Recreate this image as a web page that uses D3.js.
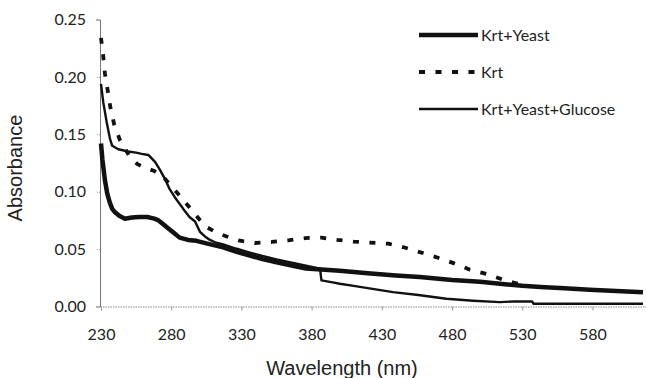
<!DOCTYPE html>
<html>
<head>
<meta charset="utf-8">
<script src="https://cdn.jsdelivr.net/npm/d3@7"></script>
<style>
  body { margin: 0; background: #fff; }
  svg { display: block; }
</style>
</head>
<body>
<svg width="646" height="378"></svg>
<script>
// values (wavelength in nm, absorbance)
let xTicks = [230, 280, 330, 380, 430, 480, 530, 580];
let yTicks = [0, 0.05, 0.10, 0.15, 0.20, 0.25];
let seriesNames = ["Krt+Yeast", "Krt", "Krt+Yeast+Glucose"];

let yeastWl = [230, 231, 232.8, 234.5, 236.4, 238, 240, 243, 247, 252, 257, 263, 268, 271, 275, 278, 282, 286, 292, 298, 305, 311, 317, 326, 336, 345, 355, 365, 376, 387, 400, 420, 440, 457, 480, 500, 514, 530, 543, 560, 578, 597, 616];
let yeastAbs = [0.142, 0.128, 0.110, 0.098, 0.090, 0.085, 0.082, 0.079, 0.0765, 0.0775, 0.078, 0.078, 0.0765, 0.075, 0.071, 0.068, 0.064, 0.060, 0.058, 0.0572, 0.055, 0.0532, 0.0515, 0.0478, 0.0443, 0.0413, 0.0385, 0.0358, 0.033, 0.0322, 0.0312, 0.029, 0.027, 0.0256, 0.023, 0.0215, 0.0198, 0.018, 0.017, 0.0158, 0.0146, 0.0135, 0.0125];

let krtWl = [230, 231.6, 232.8, 234.8, 236.6, 239.3, 243.5, 250.7, 256, 261.3, 268, 275, 280, 285, 294.6, 304, 310, 316, 327.8, 339.7, 351.6, 363.4, 375.3, 387, 398.3, 410, 421.6, 434.6, 445, 457, 470, 481, 492.8, 505.9, 516.5, 525, 532];
let krtAbs = [0.234, 0.218, 0.203, 0.188, 0.174, 0.159, 0.145, 0.130, 0.124, 0.121, 0.118, 0.112, 0.105, 0.098, 0.084, 0.070, 0.066, 0.0625, 0.0576, 0.0553, 0.0562, 0.0576, 0.0596, 0.0600, 0.0580, 0.0565, 0.0556, 0.0547, 0.0518, 0.0474, 0.0425, 0.0378, 0.0320, 0.0280, 0.0233, 0.0205, 0.0182];

let glucoseWl = [230, 231.6, 234, 236.4, 238, 242.3, 249.4, 255, 259, 263.7, 268.5, 272, 275.6, 279, 282.7, 288.6, 293, 297, 300.5, 304, 307.6, 312, 317, 326, 336, 345, 355, 365, 376, 386, 387, 395, 400, 410, 420, 438, 456, 476, 495, 514, 525, 537, 538, 580, 616];
let glucoseAbs = [0.194, 0.178, 0.161, 0.146, 0.140, 0.137, 0.135, 0.134, 0.133, 0.132, 0.126, 0.119, 0.111, 0.102, 0.095, 0.085, 0.078, 0.074, 0.065, 0.061, 0.058, 0.0555, 0.054, 0.0505, 0.047, 0.044, 0.041, 0.0385, 0.0355, 0.033, 0.0227, 0.021, 0.0198, 0.018, 0.016, 0.0125, 0.010, 0.0067, 0.005, 0.0038, 0.0045, 0.0044, 0.0024, 0.0024, 0.0024];

let svg = d3.select("svg");

let x = d3.scaleLinear()
  .domain([230, 620])
  .range([101, 648.6]);
let y = d3.scaleLinear()
  .domain([0, 0.25])
  .range([306.5, 19.5]);

let series = [
  { name: seriesNames[0], wl: yeastWl, abs: yeastAbs, width: 4.5, dash: null },
  { name: seriesNames[1], wl: krtWl, abs: krtAbs, width: 3.8, dash: "6,10.5" },
  { name: seriesNames[2], wl: glucoseWl, abs: glucoseAbs, width: 2.4, dash: null }
];

// axes
let yAxis = svg.append("g")
  .attr("transform", "translate(100,0)")
  .call(d3.axisLeft(y).tickValues(yTicks).tickSize(4).tickFormat(d3.format(".2f")));
yAxis.select(".domain").attr("stroke", "#777").attr("stroke-width", 1);
yAxis.selectAll(".tick line").attr("stroke", "#999").attr("stroke-dasharray", "1,1");
yAxis.selectAll("text")
  .attr("x", -14)
  .attr("font-family", "Lato, 'Open Sans', sans-serif")
  .attr("font-size", 16)
  .attr("fill", "#222");

let xAxis = svg.append("g")
  .attr("transform", "translate(0,306.5)")
  .call(d3.axisBottom(x).tickValues(xTicks).tickSize(4).tickFormat(d3.format("d")));
xAxis.select(".domain").attr("stroke", "#888").attr("stroke-dasharray", "1.5,1");
xAxis.selectAll(".tick line").attr("stroke", "#999");
xAxis.selectAll("text")
  .attr("y", 22)
  .attr("font-family", "Lato, 'Open Sans', sans-serif")
  .attr("font-size", 16)
  .attr("fill", "#222");

svg.append("text")
  .attr("transform", "translate(22,168) rotate(-90)")
  .attr("text-anchor", "middle")
  .attr("font-family", "'Liberation Sans', Arial, sans-serif")
  .attr("font-size", 20)
  .attr("fill", "#222")
  .text("Absorbance");

svg.append("text")
  .attr("x", 342)
  .attr("y", 375)
  .attr("text-anchor", "middle")
  .attr("font-family", "'Liberation Sans', Arial, sans-serif")
  .attr("font-size", 20)
  .attr("fill", "#222")
  .text("Wavelength (nm)");

// curves
let line = d3.line()
  .x(function(d) { return x(d[0]); })
  .y(function(d) { return y(d[1]); });

svg.append("g")
  .selectAll("path")
  .data(series)
  .enter().append("path")
    .attr("d", function(s) { return line(d3.zip(s.wl, s.abs)); })
    .attr("fill", "none")
    .attr("stroke", "#111")
    .attr("stroke-width", function(s) { return s.width; })
    .attr("stroke-dasharray", function(s) { return s.dash; })
    .attr("stroke-linejoin", "round");

// legend
let legend = svg.append("g")
  .selectAll("g")
  .data(series)
  .enter().append("g")
    .attr("transform", function(s, i) { return "translate(419," + [35, 72, 109][i] + ")"; });

legend.append("line")
  .attr("x1", 0)
  .attr("x2", 59)
  .attr("stroke", "#111")
  .attr("stroke-width", function(s) { return s.width; })
  .attr("stroke-dasharray", function(s) { return s.dash; });

legend.append("text")
  .attr("x", 62)
  .attr("dy", "0.35em")
  .attr("font-family", "Lato, 'Open Sans', sans-serif")
  .attr("font-size", 16)
  .attr("fill", "#222")
  .text(function(s) { return s.name; });
</script>
</body>
</html>
